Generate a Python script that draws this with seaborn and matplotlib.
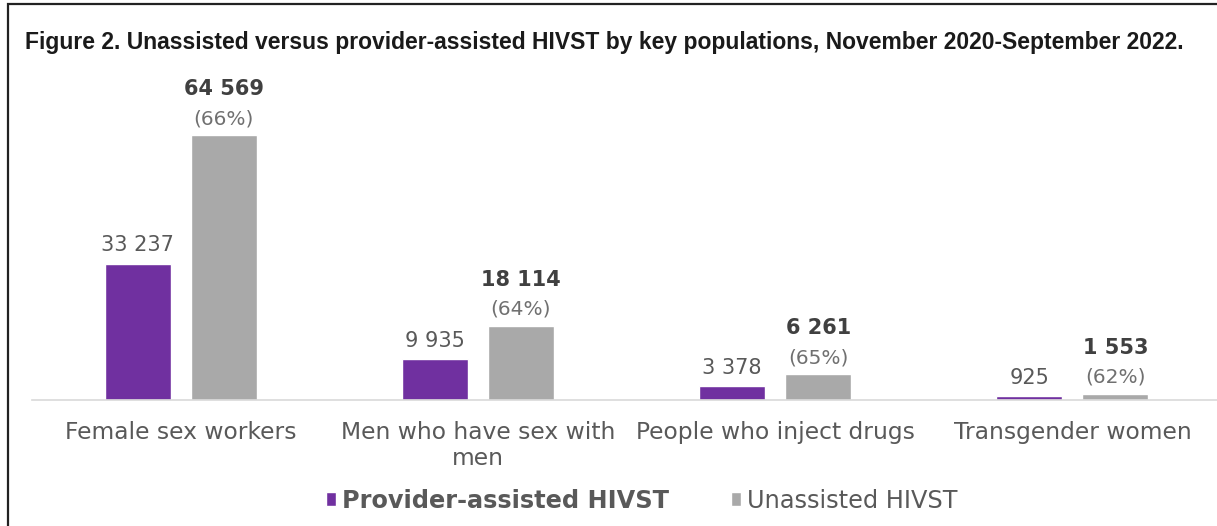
import pandas as pd
import matplotlib.pyplot as plt
import seaborn as sns
from matplotlib.patches import Rectangle

# values
populations = ['Female sex workers', 'Men who have sex with\nmen',
               'People who inject drugs', 'Transgender women']
provider_assisted = [33237, 9935, 3378, 925]
unassisted = [64569, 18114, 6261, 1553]
unassisted_pct = ['(66%)', '(64%)', '(65%)', '(62%)']
series_names = ['Provider-assisted HIVST', 'Unassisted HIVST']

purple = '#7030A0'
gray = '#A9A9A9'
text_gray = '#595959'

df = pd.DataFrame({
    'population': populations * 2,
    'tests': provider_assisted + unassisted,
    'type': [series_names[0]] * 4 + [series_names[1]] * 4,
})

sns.set_style('white')
plt.rcParams['font.family'] = ['DejaVu Sans']

W, H = 1217, 526
fig = plt.figure(figsize=(W / 100, H / 100), dpi=100)
ax = fig.add_axes([32 / W, (H - 400) / H, (1221 - 32) / W, 320 / H])

sns.barplot(data=df, x='population', y='tests', hue='type',
            palette=[purple, gray], width=0.58, gap=0.234, ax=ax,
            saturation=1)

ax.set_xlim(-0.5, 3.5)
ax.set_ylim(0, 64569 * 320 / 265)
ax.set_xlabel('')
ax.set_ylabel('')
ax.set_yticks([])
for s in ['top', 'left', 'right']:
    ax.spines[s].set_visible(False)
ax.spines['bottom'].set_color('#D9D9D9')
ax.spines['bottom'].set_linewidth(1.2)
ax.tick_params(axis='x', length=0, pad=15, labelsize=16.8, labelcolor=text_gray)
for lbl in ax.get_xticklabels():
    lbl.set_linespacing(1.2)

# value labels
fmt = lambda v: f'{v:,}'.replace(',', ' ')
for bar, v in zip(ax.containers[0], provider_assisted):
    ax.annotate(fmt(v), (bar.get_x() + bar.get_width() / 2, bar.get_height()),
                xytext=(0, 6), textcoords='offset points', ha='center', va='bottom',
                fontsize=15, color=text_gray)
for bar, v, p in zip(ax.containers[1], unassisted, unassisted_pct):
    x = bar.get_x() + bar.get_width() / 2
    ax.annotate(p, (x, bar.get_height()), xytext=(0, 5), textcoords='offset points',
                ha='center', va='bottom', fontsize=14.5, color='#707070')
    ax.annotate(fmt(v), (x, bar.get_height()), xytext=(0, 26), textcoords='offset points',
                ha='center', va='bottom', fontsize=15, fontweight='bold', color='#404040')

# legend
leg = ax.legend(loc='center', bbox_to_anchor=(0.5 + 15 / (1221 - 32), -0.315), ncol=2,
                frameon=False, fontsize=17.3, handlelength=0.4, handleheight=0.5,
                handletextpad=0.25, columnspacing=2.6)
for t in leg.get_texts():
    t.set_color(text_gray)
leg.get_texts()[0].set_fontweight('bold')

fig.text(25 / W, 1 - 43 / H,
         'Figure 2. Unassisted versus provider-assisted HIVST by key populations, '
         'November 2020-September 2022.',
         ha='left', va='center', fontsize=16.5, fontweight='bold',
         family='Liberation Sans', color='#1a1a1a')

# frame around the figure (cut off at right and bottom)
fig.patches.append(Rectangle((8 / W, -0.1), 1.1, 1.1 - 4 / H, transform=fig.transFigure,
                             fill=False, edgecolor='#222222', linewidth=1.6))

fig.savefig('out.png', dpi=100)
